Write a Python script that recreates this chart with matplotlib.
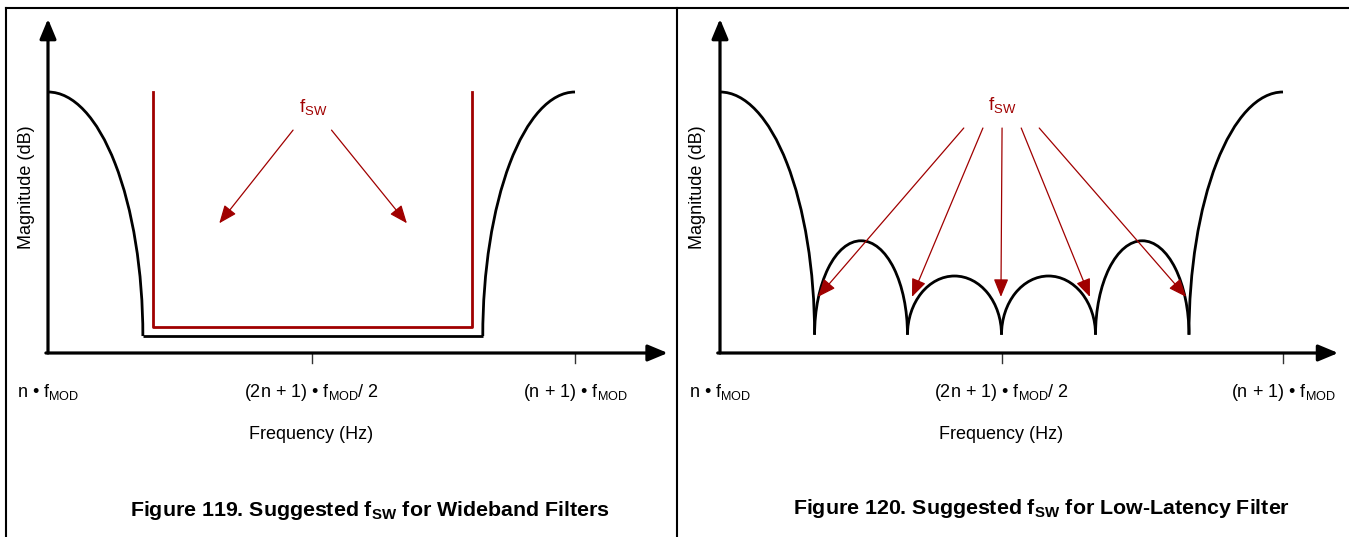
import matplotlib
matplotlib.use("Agg")
import matplotlib.pyplot as plt
from matplotlib.lines import Line2D
from matplotlib.patches import Arc, ArrowStyle

plt.rcParams["font.family"] = ["Liberation Sans", "DejaVu Sans"]
plt.rcParams["mathtext.fontset"] = "custom"
plt.rcParams["mathtext.rm"] = "Liberation Sans"
plt.rcParams["mathtext.bf"] = "Liberation Sans:bold"

# x: 0 = n*fMOD, 1 = (n+1)*fMOD ; y: relative magnitude (main lobe peak = 1)
tick_pos = [0.0, 0.5, 1.0]
tick_labels = [
    r"n • $\mathrm{f}_{\mathrm{MOD}}$",
    r"(2n + 1) • $\mathrm{f}_{\mathrm{MOD}}$/ 2",
    r"(n + 1) • $\mathrm{f}_{\mathrm{MOD}}$",
]
x_label = "Frequency (Hz)"
y_label = "Magnitude (dB)"
fsw_label = r"$\mathrm{f}_{\mathrm{SW}}$"

# Figure 119 - wideband filter
wide_title = r"Figure 119. Suggested $\mathbf{f}_{\mathbf{SW}}$ for Wideband Filters"
wide_peak = 1.0
wide_floor = 0.065
wide_edges = [0.18, 0.825]          # main lobes reach the stop band
wide_fsw_edges = [0.199, 0.805]     # suggested fSW band
wide_fsw_floor = 0.10
wide_arrow_from = [0.465, 0.538]
wide_arrow_to = [0.325, 0.681]
wide_arrow_y = [0.854, 0.497]

# Figure 120 - low-latency filter
lat_title = r"Figure 120. Suggested $\mathbf{f}_{\mathbf{SW}}$ for Low-Latency Filter"
lat_peak = 1.0
lat_floor = 0.07
lat_nulls = [0.168, 0.333, 0.5, 0.667, 0.833]
lat_lobe_peaks = [0.43, 0.295, 0.295, 0.43]
lat_arrow_from = [0.433, 0.467, 0.501, 0.535, 0.567]
lat_arrow_to = [0.174, 0.341, 0.499, 0.657, 0.828]
lat_arrow_y = [0.862, 0.215]

RED = "#A00000"
FS = 13


def draw_frame(ax, x_tip):
    ax.set_xlim(0, 1)
    ax.set_ylim(0, 1)
    ax.axis("off")
    head = ArrowStyle("-|>", head_length=1.2, head_width=0.5)
    ax.annotate("", xy=(0, 1.28), xytext=(0, 0),
                arrowprops=dict(arrowstyle=head, lw=2.3, color="black",
                                shrinkA=0, shrinkB=0, mutation_scale=10),
                annotation_clip=False)
    ax.annotate("", xy=(x_tip, 0), xytext=(-0.004, 0),
                arrowprops=dict(arrowstyle=head, lw=2.3, color="black",
                                shrinkA=0, shrinkB=0, mutation_scale=10),
                annotation_clip=False)
    for xp, lab in zip(tick_pos, tick_labels):
        if xp > 0:
            ax.plot([xp, xp], [0, -0.038], color="#333333", lw=1, clip_on=False)
        ax.text(xp, -0.15, lab, ha="center", va="center", fontsize=FS)
    ax.text(0.5, -0.314, x_label, ha="center", va="center", fontsize=FS)
    ax.text(-0.04, 0.635, y_label, ha="center", va="center", rotation=90,
            fontsize=FS)


def lobe(ax, x0, x1, floor, top, half=True, side="up"):
    # elliptical lobe between two nulls
    if half:
        arc = Arc(((x0 + x1) / 2, floor), x1 - x0, 2 * (top - floor),
                  theta1=0, theta2=180, lw=2.0, color="black", clip_on=False)
    elif side == "left":
        arc = Arc((x0, floor), 2 * (x1 - x0), 2 * (top - floor),
                  theta1=0, theta2=90, lw=2.0, color="black", clip_on=False)
    else:
        arc = Arc((x1, floor), 2 * (x1 - x0), 2 * (top - floor),
                  theta1=90, theta2=180, lw=2.0, color="black", clip_on=False)
    ax.add_patch(arc)


def red_arrow(ax, x0, y0, x1, y1):
    head = ArrowStyle("-|>", head_length=1.1, head_width=0.45)
    ax.annotate("", xy=(x1, y1), xytext=(x0, y0),
                arrowprops=dict(arrowstyle=head, lw=0.9, color=RED,
                                shrinkA=0, shrinkB=0, mutation_scale=10),
                annotation_clip=False)


fig = plt.figure(figsize=(13.49, 5.37), dpi=100)
W, H = 1349, 537

# left panel
ax1 = fig.add_axes([48 / W, 184 / H, 527 / W, 261 / H])
draw_frame(ax1, 1.176)
lobe(ax1, 0.0, wide_edges[0], wide_floor, wide_peak, half=False, side="left")
lobe(ax1, wide_edges[1], 1.0, wide_floor, wide_peak, half=False, side="right")
ax1.plot(wide_edges, [wide_floor, wide_floor], color="black", lw=2.0,
         solid_capstyle="butt")
ax1.plot([wide_fsw_edges[0], wide_fsw_edges[0], wide_fsw_edges[1], wide_fsw_edges[1]],
         [wide_peak, wide_fsw_floor, wide_fsw_floor, wide_peak],
         color=RED, lw=2.0, clip_on=False)
ax1.text(0.503, 0.94, fsw_label, color=RED, ha="center", va="center", fontsize=13.5)
for xa, xb in zip(wide_arrow_from, wide_arrow_to):
    red_arrow(ax1, xa, wide_arrow_y[0], xb, wide_arrow_y[1])

# right panel
ax2 = fig.add_axes([720 / W, 184 / H, 563 / W, 261 / H])
draw_frame(ax2, 1.098)
lobe(ax2, 0.0, lat_nulls[0], lat_floor, lat_peak, half=False, side="left")
lobe(ax2, lat_nulls[-1], 1.0, lat_floor, lat_peak, half=False, side="right")
for x0, x1, top in zip(lat_nulls[:-1], lat_nulls[1:], lat_lobe_peaks):
    lobe(ax2, x0, x1, lat_floor, top)
ax2.text(0.501, 0.948, fsw_label, color=RED, ha="center", va="center", fontsize=13.5)
for xa, xb in zip(lat_arrow_from, lat_arrow_to):
    red_arrow(ax2, xa, lat_arrow_y[0], xb, lat_arrow_y[1])

# captions
fig.text(370 / W, 1 - 511 / H, wide_title, ha="center", va="center",
         fontsize=15.4, fontweight="bold")
fig.text(1041 / W, 1 - 509 / H, lat_title, ha="center", va="center",
         fontsize=15.4, fontweight="bold")

# page rules
for xs, ys in [([6 / W, 1.0], [1 - 8 / H, 1 - 8 / H]),
               ([6 / W, 6 / W], [1 - 8 / H, 0.0]),
               ([677 / W, 677 / W], [1 - 8 / H, 0.0])]:
    fig.add_artist(Line2D(xs, ys, color="black", lw=1.5))

fig.savefig("out.png", dpi=100, facecolor="white")
